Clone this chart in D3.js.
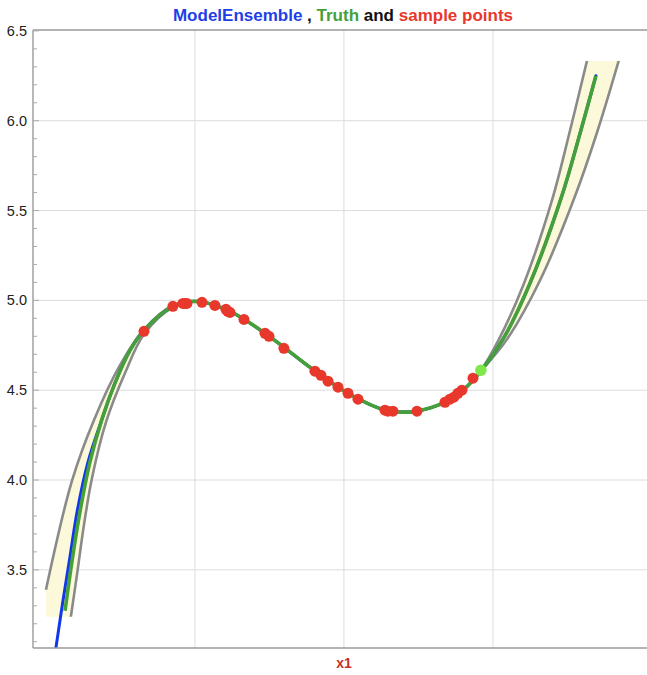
<!DOCTYPE html>
<html><head><meta charset="utf-8">
<script src="https://cdn.jsdelivr.net/npm/d3@7"></script>
<style>
body{margin:0;background:#fff;}
svg{display:block;font-family:"Liberation Sans",Arial,Helvetica,sans-serif;}
</style>
</head><body>
<svg id="chart" width="647" height="675"></svg>
<script>
// ---- data ----
const truthX = [-1.872,-1.826,-1.772,-1.705,-1.624,-1.537,-1.436,-1.342,-1.148,-0.980,-0.765,-0.530,-0.201,0.027,0.275,0.409,0.490,0.678,0.799,0.919,1.067,1.248,1.463,1.584,1.691];
const truthY = [3.272,3.544,3.822,4.100,4.339,4.539,4.722,4.833,4.967,4.994,4.939,4.817,4.611,4.483,4.389,4.378,4.383,4.433,4.500,4.606,4.783,5.094,5.583,5.928,6.250];

const modelX = [-1.953,-1.933,-1.889,-1.842,-1.789,-1.718,-1.624,-1.537,-1.436,-1.342,-1.148,-0.980,-0.765,-0.530,-0.201,0.027,0.275,0.409,0.490,0.678,0.799,0.919,1.067,1.248,1.463,1.584,1.691];
const modelY = [2.956,3.067,3.311,3.556,3.833,4.100,4.339,4.539,4.722,4.833,4.967,4.994,4.939,4.817,4.611,4.483,4.389,4.378,4.383,4.433,4.500,4.606,4.783,5.094,5.583,5.928,6.250];

const upperX = [-2.000,-1.826,-1.678,-1.503,-1.342,-1.148,-0.980,-0.765,-0.530,-0.201,0.027,0.275,0.409,0.490,0.678,0.799,0.919,1.040,1.208,1.396,1.517,1.631,1.705];
const upperY = [3.389,3.994,4.333,4.639,4.839,4.972,4.994,4.939,4.817,4.611,4.483,4.389,4.378,4.383,4.433,4.500,4.611,4.783,5.094,5.556,5.944,6.333,6.583];

const lowerX = [-2.000,-1.906,-1.834,-1.792,-1.745,-1.691,-1.597,-1.470,-1.342,-1.148,-0.980,-0.765,-0.530,-0.201,0.027,0.275,0.409,0.490,0.678,0.799,0.919,1.094,1.322,1.550,1.698,1.846];
const lowerY = [2.222,2.833,3.233,3.472,3.750,4.011,4.322,4.594,4.811,4.961,4.994,4.939,4.817,4.611,4.483,4.389,4.378,4.383,4.433,4.500,4.606,4.783,5.122,5.578,5.933,6.339];
const bandClip = [3.239, 6.333];

const sampleX = [-1.342,-1.148,-1.081,-1.067,-1.054,-0.953,-0.866,-0.792,-0.779,-0.765,-0.671,-0.530,-0.503,-0.403,-0.195,-0.154,-0.107,-0.040,0.027,0.094,0.275,0.295,0.329,0.490,0.678,0.711,0.738,0.765,0.792,0.866];
const sampleY = [4.828,4.967,4.983,4.983,4.983,4.989,4.972,4.950,4.939,4.933,4.894,4.817,4.800,4.733,4.606,4.583,4.550,4.517,4.483,4.450,4.389,4.383,4.383,4.383,4.433,4.450,4.461,4.483,4.500,4.567];
const highlightX = [0.919];
const highlightY = [4.611];

const xGrid = [-1, 0, 1];
const yMajor = [3.5, 4.0, 4.5, 5.0, 5.5, 6.0, 6.5];
const yTickLabels = ["3.5","4.0","4.5","5.0","5.5","6.0","6.5"];
const yMinor = d3.range(31, 66).map(d => d / 10);

// ---- layout ----
const svg = d3.select("#chart");
const L = 33, R = 647, T = 30, B = 648;
const x = d3.scaleLinear().domain([-2.087, 2.034]).range([L, R]);
const y = d3.scaleLinear().domain([3.065, 6.505]).range([B, T]);

const defs = svg.append("defs");
defs.append("clipPath").attr("id","plot").append("rect")
  .attr("x", L).attr("y", T).attr("width", R - L).attr("height", B - T);
defs.append("clipPath").attr("id","band").append("rect")
  .attr("x", L).attr("y", y(bandClip[1])).attr("width", R - L)
  .attr("height", y(bandClip[0]) - y(bandClip[1]));

// grid
const grid = svg.append("g").attr("stroke", "#dcdcdc").attr("stroke-width", 1);
grid.selectAll("line.h").data(yMajor.filter(v => v < 6.5)).join("line")
  .attr("x1", L).attr("x2", R).attr("y1", d => y(d)).attr("y2", d => y(d));
grid.selectAll("line.v").data(xGrid).join("line")
  .attr("x1", d => x(d)).attr("x2", d => x(d)).attr("y1", T).attr("y2", B);

const pts = (xs, ys) => xs.map((v, i) => [v, ys[i]]);
const line = d3.line().x(d => x(d[0])).y(d => y(d[1])).curve(d3.curveCatmullRom.alpha(0.5));

const upperPts = pts(upperX, upperY);
const lowerPts = pts(lowerX, lowerY);

// band fill
const gBand = svg.append("g").attr("clip-path", "url(#band)");
const bandPath = line(upperPts) + line(lowerPts.slice().reverse()).replace(/^M/, "L") + "Z";
gBand.append("path").attr("d", bandPath).attr("fill", "#fbf9d9").attr("stroke", "none");
gBand.append("path").attr("d", line(upperPts)).attr("fill", "none").attr("stroke", "#8a8a8a").attr("stroke-width", 2.6);
gBand.append("path").attr("d", line(lowerPts)).attr("fill", "none").attr("stroke", "#8a8a8a").attr("stroke-width", 2.6);

const gPlot = svg.append("g").attr("clip-path", "url(#plot)");
gPlot.append("path").attr("d", line(pts(modelX, modelY))).attr("fill", "none")
  .attr("stroke", "#1237e8").attr("stroke-width", 3).attr("stroke-linecap", "round");
gPlot.append("path").attr("d", line(pts(truthX, truthY))).attr("fill", "none")
  .attr("stroke", "#45a03a").attr("stroke-width", 3.6).attr("stroke-linecap", "butt");

gPlot.selectAll("circle.s").data(pts(sampleX, sampleY)).join("circle")
  .attr("cx", d => x(d[0])).attr("cy", d => y(d[1])).attr("r", 5.5).attr("fill", "#e8382c");
gPlot.selectAll("circle.h").data(pts(highlightX, highlightY)).join("circle")
  .attr("cx", d => x(d[0])).attr("cy", d => y(d[1])).attr("r", 5.8).attr("fill", "#7ee84c");

// frame
const frame = svg.append("g").attr("stroke", "#9a9a9a").attr("stroke-width", 1.4).attr("fill", "none");
frame.append("line").attr("x1", L).attr("x2", L).attr("y1", T).attr("y2", B);
frame.append("line").attr("x1", L).attr("x2", R).attr("y1", B).attr("y2", B);
frame.append("line").attr("x1", L).attr("x2", R).attr("y1", T).attr("y2", T);

// ticks
const ticks = svg.append("g").attr("stroke", "#aaaaaa").attr("stroke-width", 1);
ticks.selectAll("line").data(yMinor).join("line")
  .attr("x1", L).attr("x2", d => L + (Math.abs(d * 2 - Math.round(d * 2)) < 1e-6 ? 6 : 4))
  .attr("y1", d => y(d)).attr("y2", d => y(d));

svg.append("g").selectAll("text").data(yMajor).join("text")
  .attr("x", 27).attr("y", d => y(d)).attr("dy", "0.35em")
  .attr("text-anchor", "end").attr("font-size", 14.5).attr("fill", "#222")
  .text((d, i) => yTickLabels[i]);

// x label
svg.append("text").attr("x", x(0)).attr("y", 668).attr("text-anchor", "middle")
  .attr("font-size", 14).attr("font-weight", "bold").attr("fill", "#c8302a").text("x1");

// title
const title = svg.append("text").attr("x", 343).attr("y", 21).attr("text-anchor", "middle")
  .attr("font-size", 17).attr("font-weight", "bold");
title.append("tspan").attr("fill", "#1e3fe6").text("ModelEnsemble");
title.append("tspan").attr("fill", "#111").text(" , ");
title.append("tspan").attr("fill", "#45a03a").text("Truth");
title.append("tspan").attr("fill", "#111").text(" and ");
title.append("tspan").attr("fill", "#e8382c").text("sample points");
</script>
</body></html>
